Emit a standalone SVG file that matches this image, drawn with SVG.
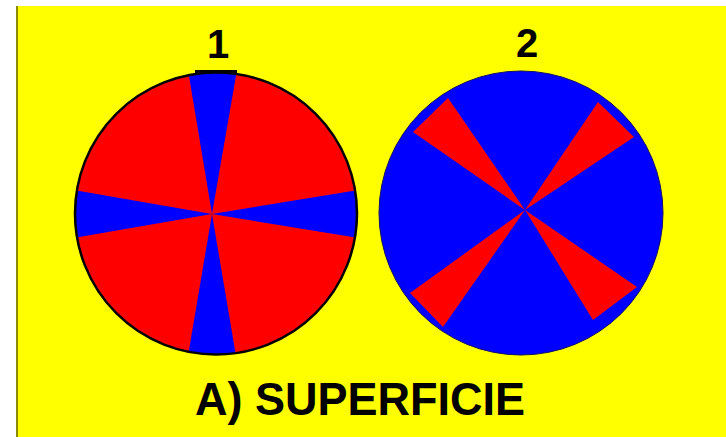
<svg xmlns="http://www.w3.org/2000/svg" width="726" height="437" viewBox="0 0 726 437">
  <style>
    .red { fill: #ff0000; }
    .blue { fill: #0000ff; }
    .lbl { font-family: "Liberation Sans", Arial, sans-serif; font-weight: bold; fill: #000000; }
  </style>
  <defs>
    <clipPath id="c1"><circle cx="216" cy="213.5" r="141"/></clipPath>
  </defs>
  <rect x="0" y="0" width="726" height="437" fill="#ffffff"/>
  <rect x="16" y="6" width="710" height="431" fill="#ffff00"/>
  <rect x="16" y="6" width="2" height="431" fill="#8c8a00"/>

  <g id="node1">
    <circle cx="216" cy="213.5" r="141" class="red"/>
    <g clip-path="url(#c1)" class="blue">
      <polygon points="212,214 188,70 237,70"/>
      <polygon points="212,214 236,356 188,356"/>
      <polygon points="212,214 358,190 358,238"/>
      <polygon points="212,214 74,238 74,190"/>
    </g>
    <circle cx="216" cy="213.5" r="141" fill="none" stroke="#000000" stroke-width="2.5"/>
    <line x1="195" y1="71.5" x2="237" y2="71.5" stroke="#000000" stroke-width="3"/>
  </g>

  <g id="node2">
    <circle cx="521" cy="213" r="142" class="blue" stroke="#10106a" stroke-width="1"/>
    <g class="red">
      <polygon points="525,210 413,132 448,98"/>
      <polygon points="525,210 598,102 634,137"/>
      <polygon points="525,210 637,287 593,320"/>
      <polygon points="525,210 443,327 410,293"/>
    </g>
  </g>

  <g id="labels">
    <text class="lbl" x="218" y="58" font-size="40" text-anchor="middle">1</text>
    <text class="lbl" x="527" y="57" font-size="40" text-anchor="middle">2</text>
    <text class="lbl" x="195" y="415" font-size="46" textLength="330" lengthAdjust="spacingAndGlyphs">A) SUPERFICIE</text>
  </g>
</svg>
